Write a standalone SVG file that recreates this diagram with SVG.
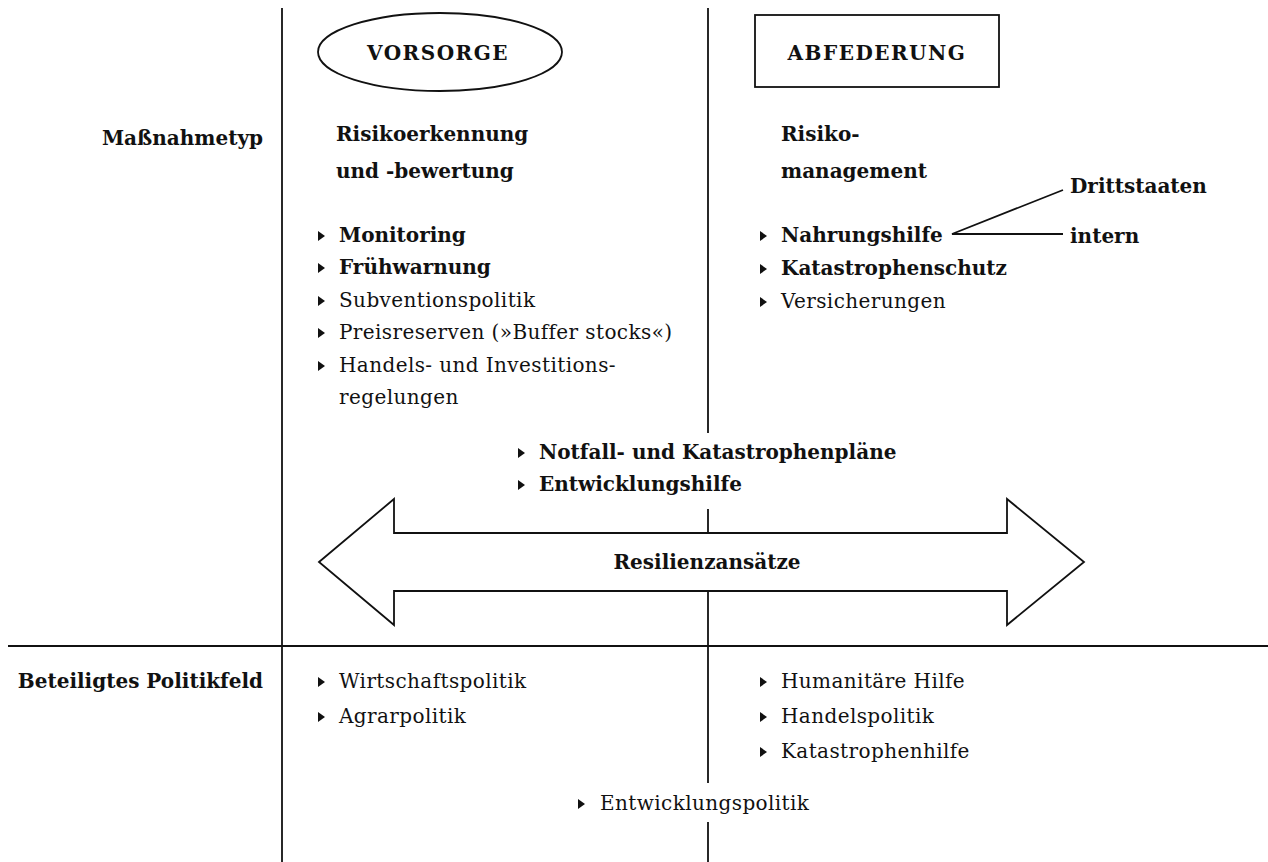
<svg xmlns="http://www.w3.org/2000/svg" width="1268" height="862" viewBox="0 0 1268 862">
<style>
text{font-family:"DejaVu Serif","Liberation Serif",serif;fill:#111;font-size:20px}
.r{letter-spacing:0.4px}
.b{font-weight:bold}
.cap{font-weight:bold;letter-spacing:1.5px;text-anchor:middle}
.ln{stroke:#111;stroke-width:1.8;fill:none}
.sh{stroke:#111;stroke-width:1.8;fill:#fff}
</style>
<defs>
<path id="tri" d="M0,-11 L7,-6 L0,-1 Z" fill="#111"/>
</defs>
<g id="connectors">
<line class="ln" x1="282" y1="8" x2="282" y2="862"/>
<line class="ln" x1="708" y1="8" x2="708" y2="433"/>
<line class="ln" x1="708" y1="509" x2="708" y2="533"/>
<line class="ln" x1="708" y1="591" x2="708" y2="783"/>
<line class="ln" x1="708" y1="822" x2="708" y2="862"/>
<line class="ln" x1="8" y1="646" x2="1268" y2="646"/>
<polyline class="ln" points="1063,190 952,234 1063,234"/>
</g>
<g id="arrow">
<polygon class="sh" points="319,562 394,499 394,533 1007,533 1007,499 1084,562 1007,625 1007,591 394,591 394,625"/>
<text class="b" x="707" y="569" text-anchor="middle">Resilienzansätze</text>
</g>
<g id="vorsorge">
<ellipse class="sh" cx="440" cy="52" rx="122" ry="39"/>
<text class="cap" x="438" y="60">VORSORGE</text>
</g>
<g id="abfederung">
<rect class="sh" x="755" y="15" width="244" height="72"/>
<text class="cap" x="877" y="60">ABFEDERUNG</text>
</g>
<g id="massnahmetyp">
<text class="b" x="263" y="145" text-anchor="end">Maßnahmetyp</text>
</g>
<g id="risikoerkennung">
<text class="b" x="336" y="141">Risikoerkennung</text>
<text class="b" x="336" y="178">und -bewertung</text>
<use href="#tri" x="318" y="242"/><text class="b" x="339" y="242">Monitoring</text>
<use href="#tri" x="318" y="274"/><text class="b" x="339" y="274">Frühwarnung</text>
<use href="#tri" x="318" y="307"/><text class="r" x="339" y="307">Subventionspolitik</text>
<use href="#tri" x="318" y="339"/><text class="r" x="339" y="339">Preisreserven (»Buffer stocks«)</text>
<use href="#tri" x="318" y="372"/><text class="r" x="339" y="372">Handels- und Investitions-</text>
<text class="r" x="339" y="404">regelungen</text>
</g>
<g id="risikomanagement">
<text class="b" x="781" y="141">Risiko-</text>
<text class="b" x="781" y="178">management</text>
<use href="#tri" x="760" y="242"/><text class="b" x="781" y="242">Nahrungshilfe</text>
<use href="#tri" x="760" y="275"/><text class="b" x="781" y="275">Katastrophenschutz</text>
<use href="#tri" x="760" y="308"/><text class="r" x="781" y="308">Versicherungen</text>
</g>
<g id="drittstaaten"><text class="b" x="1070" y="193">Drittstaaten</text></g>
<g id="intern"><text class="b" x="1070" y="243">intern</text></g>
<g id="gemeinsam">
<use href="#tri" x="518" y="459"/><text class="b" x="539" y="459">Notfall- und Katastrophenpläne</text>
<use href="#tri" x="518" y="491"/><text class="b" x="539" y="491">Entwicklungshilfe</text>
</g>
<g id="politikfeld">
<text class="b" x="263" y="688" text-anchor="end">Beteiligtes Politikfeld</text>
</g>
<g id="politik-links">
<use href="#tri" x="318" y="688"/><text class="r" x="339" y="688">Wirtschaftspolitik</text>
<use href="#tri" x="318" y="723"/><text class="r" x="339" y="723">Agrarpolitik</text>
</g>
<g id="politik-rechts">
<use href="#tri" x="760" y="688"/><text class="r" x="781" y="688">Humanitäre Hilfe</text>
<use href="#tri" x="760" y="723"/><text class="r" x="781" y="723">Handelspolitik</text>
<use href="#tri" x="760" y="758"/><text class="r" x="781" y="758">Katastrophenhilfe</text>
</g>
<g id="politik-mitte">
<use href="#tri" x="578" y="810"/><text class="r" x="600" y="810">Entwicklungspolitik</text>
</g>
</svg>
